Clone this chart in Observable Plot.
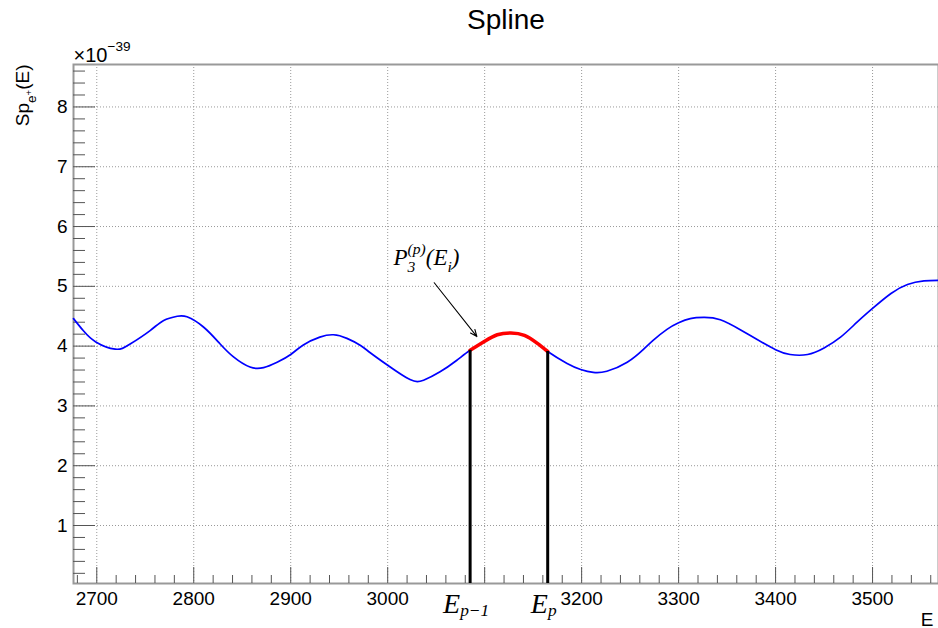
<!DOCTYPE html>
<html>
<head>
<meta charset="utf-8">
<script src="https://cdn.jsdelivr.net/npm/d3@7"></script>
<script src="https://cdn.jsdelivr.net/npm/@observablehq/plot@0.6"></script>
<style>
  html, body { margin: 0; padding: 0; background: white; }
  #chart { width: 938px; height: 628px; }
</style>
</head>
<body>
<div id="chart"></div>
<script>
// ---- data (values in units of 1e-39) ----
const energies = [2676, 2686, 2699, 2719, 2734, 2755, 2769, 2783, 2793, 2810, 2827, 2841, 2858, 2872, 2886, 2900, 2913, 2930, 2944, 2958, 2972, 2982, 3000, 3023, 3037, 3054, 3071, 3085, 3100, 3113, 3127, 3141, 3154, 3165, 3185, 3199, 3212, 3226, 3247, 3264, 3274, 3288, 3300, 3312, 3326, 3343, 3364, 3381, 3400, 3415, 3433, 3450, 3467, 3484, 3500, 3519, 3536, 3553, 3568];
const spline = [4.46, 4.26, 4.07, 3.95, 4.03, 4.26, 4.43, 4.50, 4.49, 4.32, 4.04, 3.82, 3.65, 3.64, 3.73, 3.86, 4.02, 4.15, 4.19, 4.13, 4.01, 3.89, 3.68, 3.44, 3.43, 3.57, 3.76, 3.93, 4.08, 4.19, 4.22, 4.18, 4.05, 3.91, 3.71, 3.61, 3.56, 3.58, 3.73, 3.95, 4.10, 4.28, 4.39, 4.46, 4.48, 4.44, 4.27, 4.11, 3.94, 3.86, 3.86, 3.97, 4.15, 4.40, 4.63, 4.88, 5.03, 5.09, 5.10];
const knotE = [3085, 3165];
const knotLabels = ["E_{p−1}", "E_{p}"];
const xMajor = [2700, 2800, 2900, 3000, 3100, 3200, 3300, 3400, 3500];
const xMajorLabels = ["2700", "2800", "2900", "3000", "", "3200", "3300", "3400", "3500"];
const yMajor = [1, 2, 3, 4, 5, 6, 7, 8];
const xDomain = [2676, 3568];
const yDomain = [0.03, 8.71];
const arrowFrom = {E: 3048, V: 5.06};
const arrowTo = {E: 3092, V: 4.16};
const polyLabel = {E: 3006, V: 5.35, text: "P_{3}^{(p)}(E_{i})"};
const titleText = "Spline";
const yTitle = "Sp_{e}^{+}(E)";
const xTitle = "E";
const exponentText = "×10^{−39}";

// ---- derived tables ----
const curve = energies.map((E, i) => ({E, V: spline[i]}));
const segment = curve.filter(d => d.E >= knotE[0] && d.E <= knotE[1]);
const knots = knotE.map((E, i) => ({E, V: spline[energies.indexOf(E)], label: knotLabels[i]}));
const xMinor = d3.range(2680, 3568, 20).filter(v => v % 100 !== 0);
const yMinor = d3.range(2, 88, 2).map(v => v / 10).filter(v => Math.abs(v - Math.round(v)) > 1e-9);

const sans = "'Liberation Sans', Arial, Helvetica, sans-serif";
const serif = "'Liberation Serif', 'DejaVu Serif', serif";

const chart = Plot.plot({
  width: 938,
  height: 628,
  marginLeft: 73,
  marginRight: 0,
  marginTop: 64,
  marginBottom: 45,
  style: {fontFamily: sans, fontSize: "19px", background: "white", overflow: "visible"},
  x: {domain: xDomain},
  y: {domain: yDomain},
  marks: [
    Plot.gridX(xMajor, {stroke: "#999", strokeOpacity: 1, strokeDasharray: "1,2"}),
    Plot.gridY(yMajor, {stroke: "#999", strokeOpacity: 1, strokeDasharray: "1,2"}),
    Plot.frame({stroke: "#999", strokeWidth: 2}),
    // ticks (drawn inward)
    Plot.axisX(xMajor, {anchor: "bottom", tickSize: -16, stroke: "#555", tickFormat: () => ""}),
    Plot.axisX(xMinor, {anchor: "bottom", tickSize: -8, stroke: "#555", tickFormat: () => ""}),
    Plot.axisY(yMajor, {anchor: "left", tickSize: -22, stroke: "#555", tickFormat: () => ""}),
    Plot.axisY(yMinor, {anchor: "left", tickSize: -12, stroke: "#555", tickFormat: () => ""}),
    // tick labels
    Plot.axisX(xMajor, {anchor: "bottom", tickSize: 0, tickPadding: 8, fontSize: 19, fill: "black",
      tickFormat: (d) => xMajorLabels[xMajor.indexOf(d)]}),
    Plot.axisY(yMajor, {anchor: "left", tickSize: 0, tickPadding: 6, fontSize: 19, fill: "black",
      tickFormat: (d) => String(d)}),
    // curve
    Plot.line(curve, {x: "E", y: "V", stroke: "#0000ff", strokeWidth: 1.7, curve: "natural"}),
    Plot.line(segment, {x: "E", y: "V", stroke: "#ff0000", strokeWidth: 3.6, curve: "natural"}),
    Plot.ruleX(knots, {x: "E", y1: yDomain[0], y2: "V", stroke: "black", strokeWidth: 3}),
    // annotation
    Plot.arrow([{x1: arrowFrom.E, y1: arrowFrom.V, x2: arrowTo.E, y2: arrowTo.V}],
      {x1: "x1", y1: "y1", x2: "x2", y2: "y2", stroke: "black", strokeWidth: 1.1, headLength: 10, headAngle: 45}),
    Plot.text([polyLabel], {x: "E", y: "V", text: "text", textAnchor: "start", lineAnchor: "bottom",
      fontSize: 23, fontFamily: serif, fontStyle: "italic", fill: "black", ariaLabel: () => "poly-label"}),
    Plot.text(knots, {x: "E", y: yDomain[0], text: "label", textAnchor: "middle", lineAnchor: "bottom",
      dx: -4, dy: 29, fontSize: 28, fontFamily: serif, fontStyle: "italic", fill: "black", ariaLabel: () => "knot-label"}),
    // titles
    Plot.text([titleText], {frameAnchor: "top", text: d => d, lineAnchor: "bottom", dy: -36, fontSize: 28, fill: "black"}),
    Plot.text([exponentText], {frameAnchor: "top-left", text: d => d, textAnchor: "start", lineAnchor: "bottom", dy: -3, fontSize: 20, fill: "black", ariaLabel: () => "exp-label"}),
    Plot.text([xTitle], {frameAnchor: "bottom-right", text: d => d, textAnchor: "end", lineAnchor: "bottom", dx: -5, dy: 42, fontSize: 19, fill: "black"}),
    Plot.text([yTitle], {frameAnchor: "top-left", text: d => d, textAnchor: "end", lineAnchor: "bottom", rotate: -90, dx: -45, dy: 0, fontSize: 19, fill: "black", ariaLabel: () => "y-title"})
  ]
});

document.getElementById("chart").appendChild(chart);

// ---- rich text: turn _{..} / ^{..} into tspans ----
const richOptions = {
  "poly-label": {sub: 0.3, sup: -0.5, subSize: 0.68, supSize: 0.68, stack: true},
  "knot-label": {sub: 0.14, sup: -0.4, subSize: 0.62, supSize: 0.62, stack: false},
  "exp-label": {sub: 0.3, sup: -0.55, subSize: 0.68, supSize: 0.68, stack: false},
  "y-title": {sub: 0.42, sup: 0.2, subSize: 0.72, supSize: 0.5, stack: false}
};
const NS = "http://www.w3.org/2000/svg";
chart.querySelectorAll("text").forEach(t => {
  const s = t.textContent;
  if (!/[_^]\{/.test(s)) return;
  let key = t.getAttribute("aria-label");
  if (!richOptions[key]) {
    const g = t.closest("g[aria-label]");
    key = g ? g.getAttribute("aria-label") : null;
  }
  const opt = richOptions[key] || richOptions["exp-label"];
  const holder = t.closest("[font-size]");
  const fs = holder ? parseFloat(holder.getAttribute("font-size")) : 19;
  const parts = s.split(/([_^]\{[^}]*\})/).filter(p => p);
  t.textContent = "";
  let shift = 0, prevKind = null, prevSpan = null;
  parts.forEach(p => {
    const ts = document.createElementNS(NS, "tspan");
    let target = 0, size = fs, kind = "n";
    if (p.startsWith("_{")) { kind = "sub"; target = opt.sub * fs; size = opt.subSize * fs; p = p.slice(2, -1); }
    else if (p.startsWith("^{")) { kind = "sup"; target = opt.sup * fs; size = opt.supSize * fs; p = p.slice(2, -1); }
    ts.setAttribute("dy", (target - shift).toFixed(2));
    ts.setAttribute("font-size", size.toFixed(2));
    ts.textContent = p;
    t.appendChild(ts);
    if (opt.stack && kind === "sup" && prevKind === "sub" && prevSpan) {
      const w = prevSpan.getComputedTextLength();
      ts.setAttribute("dx", (-w).toFixed(2));
    }
    shift = target;
    prevKind = kind; prevSpan = ts;
  });
  t.removeAttribute("aria-label");
});
</script>
</body>
</html>
